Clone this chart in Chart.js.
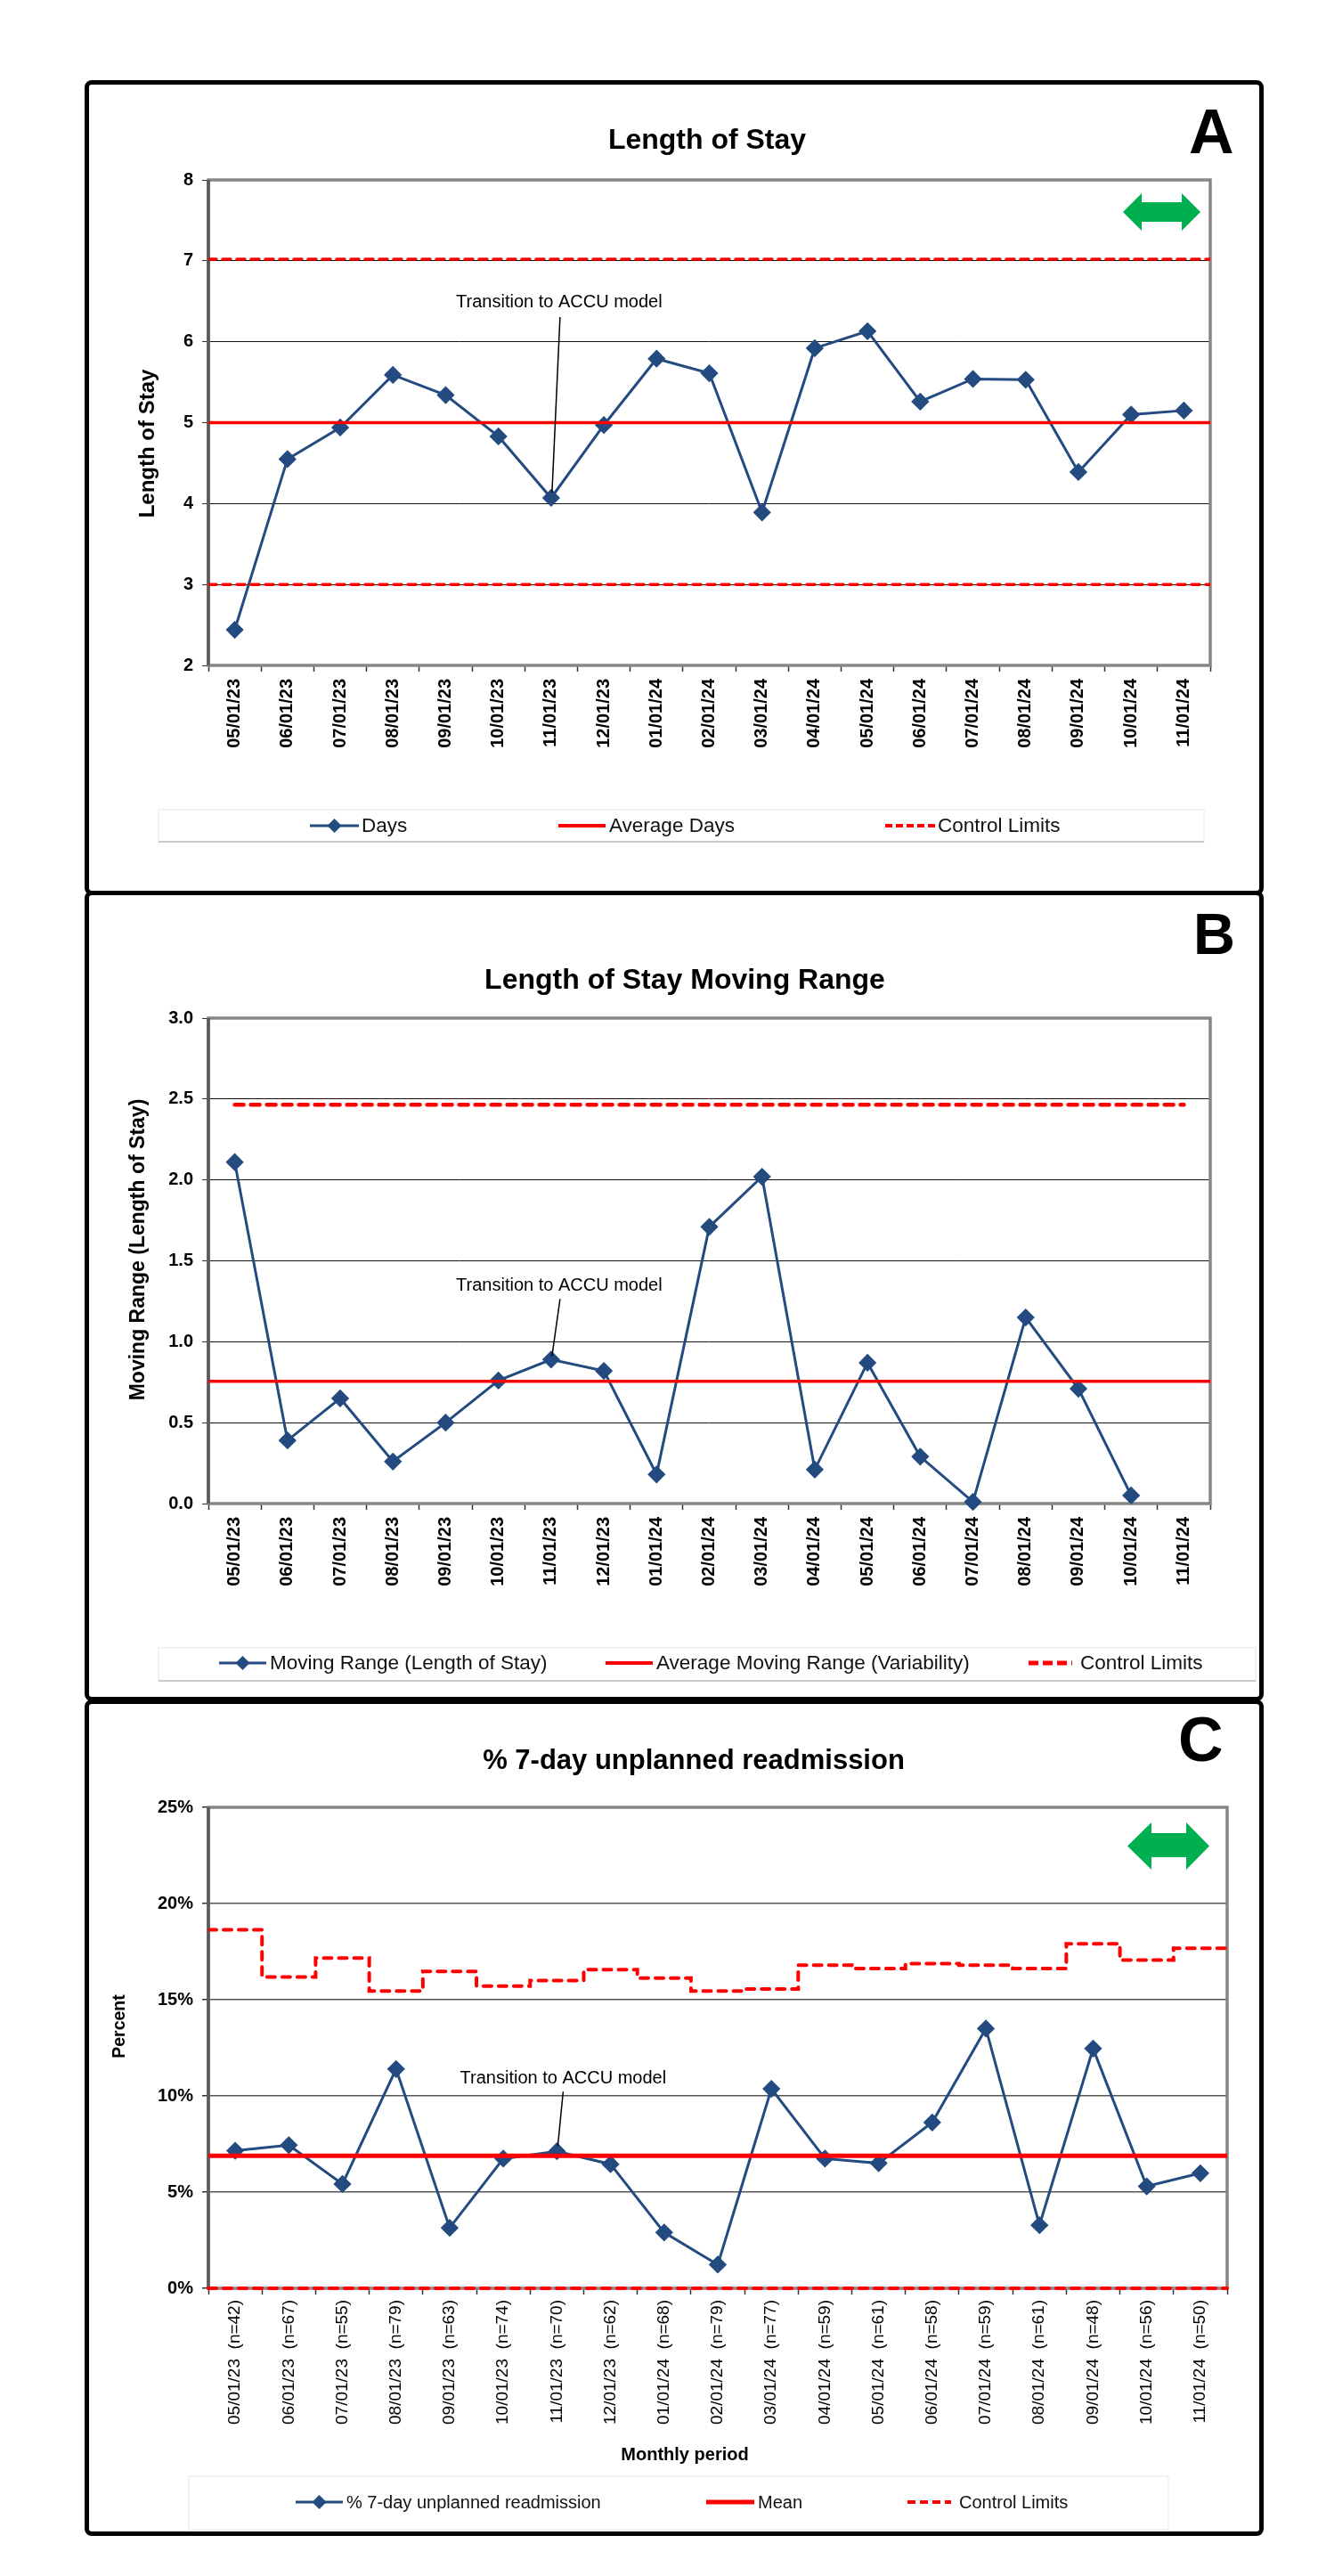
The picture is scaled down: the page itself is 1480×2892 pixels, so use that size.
<!DOCTYPE html>
<html>
<head>
<meta charset="utf-8">
<title>Length of Stay control charts</title>
<script src="https://cdn.jsdelivr.net/npm/chart.js@4/dist/chart.umd.min.js"></script>
<style>
  html, body { margin: 0; padding: 0; background: #fff; overflow: hidden; }
  body { position: relative; width: 1480px; height: 2892px; font-family: "Liberation Sans", Arial, sans-serif; }
  .panel { position: absolute; left: 95px; width: 1314px; border: 5px solid #000; border-radius: 8px; }
  canvas { position: absolute; left: 0; }
  .letter { position: absolute; font-size: 70px; font-weight: bold; line-height: 70px; color: #000; }
  svg { position: absolute; }
</style>
</head>
<body>
<div class="panel" style="top:90px;height:905px"></div>
<div class="panel" style="top:1000px;height:900px"></div>
<div class="panel" style="top:1908px;height:929px"></div>

<canvas id="chartA"></canvas>
<canvas id="chartB"></canvas>
<canvas id="chartC"></canvas>

<div class="letter" style="left:1335px;top:113px">A</div>
<div class="letter" style="left:1340px;top:1014px;font-size:65px">B</div>
<div class="letter" style="left:1323px;top:1918px">C</div>

<svg style="left:1261px;top:217px" width="87" height="42" viewBox="0 0 87 42">
  <polygon fill="#00B050" points="0,21 21,0 21,10 66,10 66,0 87,21 66,42 66,32 21,32 21,42"/>
</svg>
<svg style="left:1266px;top:2046px" width="92" height="53" viewBox="0 0 92 53">
  <polygon fill="#00B050" points="0,26.5 27,0 27,12 66,12 66,0 92,26.5 66,53 66,39 27,39 27,53"/>
</svg>

<script>
const months = ["05/01/23", "06/01/23", "07/01/23", "08/01/23", "09/01/23", "10/01/23", "11/01/23", "12/01/23", "01/01/24", "02/01/24", "03/01/24", "04/01/24", "05/01/24", "06/01/24", "07/01/24", "08/01/24", "09/01/24", "10/01/24", "11/01/24"];
const sampleSizes = [42, 67, 55, 79, 63, 74, 70, 62, 68, 79, 77, 59, 61, 58, 59, 61, 48, 56, 50];

const losDays = [2.44, 4.55, 4.94, 5.59, 5.34, 4.83, 4.07, 4.97, 5.79, 5.61, 3.89, 5.92, 6.13, 5.26, 5.54, 5.53, 4.39, 5.10, 5.15];
const losAverage = 5.0;
const losUpper = 7.02;
const losLower = 3.0;
const losTicks = [2, 3, 4, 5, 6, 7, 8];

const movingRange = [2.11, 0.39, 0.65, 0.26, 0.50, 0.76, 0.89, 0.82, 0.18, 1.71, 2.02, 0.21, 0.87, 0.29, 0.01, 1.15, 0.71, 0.05, null];
const rangeAverage = 0.755;
const rangeUpper = 2.465;
const rangeTicks = [0, 0.5, 1, 1.5, 2, 2.5, 3];

const readmission = [7.15, 7.44, 5.42, 11.4, 3.14, 6.74, 7.12, 6.45, 2.9, 1.23, 10.37, 6.74, 6.5, 8.62, 13.5, 3.28, 12.46, 5.3, 5.98];
const readmissionMean = 6.89;
const readmissionUpper = [18.64, 16.18, 17.17, 15.45, 16.47, 15.71, 16.0, 16.56, 16.12, 15.45, 15.56, 16.79, 16.62, 16.88, 16.79, 16.62, 17.9, 17.06, 17.67];
const readmissionLower = 0;
const percentTicks = [0, 5, 10, 15, 20, 25];

const navy = "#234B80";
const red = "#FF0000";
const fontFamily = '"Liberation Sans", Arial, sans-serif';

// lines that run edge to edge of the plot use the hidden linear axis
function flatLine(value) {
  return [{ x: 0, y: value }, { x: months.length, y: value }];
}

function stepLine(values) {
  const points = values.map((v, i) => ({ x: i, y: v }));
  points.push({ x: values.length, y: values[values.length - 1] });
  return points;
}

function seriesSet(label, data) {
  return { label, data, borderColor: navy, backgroundColor: navy, borderWidth: 3, pointStyle: "rectRot", pointRadius: 8, pointHoverRadius: 8, tension: 0, clip: false, order: 3, spanGaps: false };
}

function meanSet(label, value, width) {
  return { label, data: flatLine(value), xAxisID: "edge", borderColor: red, borderWidth: width, pointRadius: 0, order: 2 };
}

function limitSet(label, data, width, dash, onEdge) {
  const set = { label, data, borderColor: red, borderWidth: width, borderDash: dash, borderCapStyle: "round", pointRadius: 0, order: 1 };
  if (onEdge) set.xAxisID = "edge";
  return set;
}

// title placement, frame, axis titles, callout and the boxed legend
const extrasPlugin = {
  id: "extras",
  afterLayout(chart, args, opts) {
    const block = chart.titleBlock;
    block.left = opts.titleX - 400;
    block.right = opts.titleX + 400;
  },
  beforeDatasetsDraw(chart, args, opts) {
    const { ctx, chartArea: a } = chart;
    ctx.save();
    ctx.strokeStyle = "#868686";
    ctx.lineWidth = 3.5;
    ctx.strokeRect(a.left, a.top, a.right - a.left, a.bottom - a.top);
    ctx.strokeStyle = "#5A5A5A";
    ctx.beginPath();
    ctx.moveTo(a.left, a.top);
    ctx.lineTo(a.left, a.bottom);
    ctx.stroke();
    ctx.restore();
  },
  afterDraw(chart, args, opts) {
    const { ctx } = chart;
    ctx.save();
    ctx.fillStyle = "#000";
    ctx.textAlign = "center";
    ctx.textBaseline = "middle";

    opts.axisTitles.forEach((t) => {
      ctx.save();
      ctx.translate(t.x, t.y);
      ctx.rotate(t.rotate ? -Math.PI / 2 : 0);
      ctx.font = "bold " + t.size + "px " + fontFamily;
      ctx.fillText(t.text, 0, 0);
      ctx.restore();
    });

    const point = chart.getDatasetMeta(0).data[opts.callout.index];
    ctx.font = "20px " + fontFamily;
    ctx.fillText("Transition to ACCU model", point.x + opts.callout.textDx, point.y + opts.callout.textDy);
    ctx.strokeStyle = "#000";
    ctx.lineWidth = 1.5;
    ctx.beginPath();
    ctx.moveTo(point.x + opts.callout.lineDx, point.y + opts.callout.lineDy);
    ctx.lineTo(point.x + 1, point.y + opts.callout.endDy);
    ctx.stroke();

    const box = opts.legend.box;
    ctx.fillStyle = "#fff";
    ctx.strokeStyle = "#EEEEEE";
    ctx.lineWidth = 1.5;
    ctx.strokeRect(box.left, box.top, box.right - box.left, box.bottom - box.top);
    if (opts.legend.bottomRule) {
      ctx.strokeStyle = "#BDBDBD";
      ctx.beginPath();
      ctx.moveTo(box.left, box.bottom);
      ctx.lineTo(box.right, box.bottom);
      ctx.stroke();
    }

    ctx.textAlign = "left";
    ctx.font = opts.legend.size + "px " + fontFamily;
    opts.legend.items.forEach((item) => {
      const ds = chart.data.datasets.find((d) => d.label === item.label);
      const y = opts.legend.y;
      ctx.save();
      ctx.strokeStyle = ds.borderColor;
      ctx.lineWidth = item.width;
      ctx.setLineDash(item.dash || []);
      ctx.beginPath();
      ctx.moveTo(item.from, y);
      ctx.lineTo(item.to, y);
      ctx.stroke();
      ctx.restore();
      if (item.marker) {
        const mid = (item.from + item.to) / 2;
        ctx.fillStyle = ds.borderColor;
        ctx.beginPath();
        ctx.moveTo(mid - 8, y);
        ctx.lineTo(mid, y - 8);
        ctx.lineTo(mid + 8, y);
        ctx.lineTo(mid, y + 8);
        ctx.closePath();
        ctx.fill();
      }
      ctx.fillStyle = "#111";
      ctx.fillText(item.label, item.textX, y + 1);
    });
    ctx.restore();
  },
};

function makeChart(id, cfg) {
  const canvas = document.getElementById(id);
  canvas.style.top = cfg.top + "px";
  canvas.style.width = cfg.width + "px";
  canvas.style.height = cfg.height + "px";
  canvas.width = cfg.width;
  canvas.height = cfg.height;

  const ticks = cfg.yTicks;
  return new Chart(canvas.getContext("2d"), {
    type: "line",
    data: { labels: cfg.labels, datasets: cfg.datasets },
    plugins: [extrasPlugin],
    options: {
      responsive: false,
      animation: false,
      devicePixelRatio: 1,
      layout: { padding: { left: 0, right: cfg.width - cfg.plot.right, top: 0, bottom: 0 } },
      plugins: {
        legend: { display: false },
        tooltip: { enabled: false },
        title: {
          display: true,
          text: cfg.title,
          color: "#000",
          font: { family: fontFamily, size: cfg.titleSize, weight: "bold", lineHeight: 1 },
          padding: { top: cfg.titleCenter - cfg.titleSize / 2, bottom: cfg.plot.top - cfg.titleCenter - cfg.titleSize / 2 },
        },
        extras: cfg.extras,
      },
      scales: {
        x: {
          type: "category",
          offset: true,
          grid: { offset: true, drawOnChartArea: false, tickLength: 7, tickColor: "#333", tickWidth: 1.5 },
          border: { display: false },
          ticks: {
            autoSkip: false,
            minRotation: 90,
            maxRotation: 90,
            padding: cfg.xTickPadding,
            color: "#000",
            font: { family: fontFamily, size: cfg.xTickSize, weight: cfg.xTickWeight },
          },
          afterFit(scale) { scale.height = cfg.height - cfg.plot.bottom; },
        },
        edge: { type: "linear", display: false, min: 0, max: months.length },
        y: {
          min: ticks[0],
          max: ticks[ticks.length - 1],
          grid: { color: cfg.gridColor, lineWidth: cfg.gridWidth, tickLength: 7, tickColor: "#333" },
          border: { display: false },
          ticks: {
            stepSize: ticks[1] - ticks[0],
            padding: 10,
            color: "#000",
            font: { family: fontFamily, size: 20, weight: "bold" },
            callback: cfg.yFormat,
          },
          afterFit(scale) { scale.width = cfg.plot.left; },
        },
      },
    },
  });
}

makeChart("chartA", {
  top: 90, width: 1480, height: 915,
  plot: { left: 234, right: 1359, top: 112, bottom: 657 },
  title: "Length of Stay", titleSize: 32, titleCenter: 68,
  labels: months,
  xTickSize: 20, xTickWeight: "bold", xTickPadding: 8,
  gridColor: "#111", gridWidth: 1,
  yTicks: losTicks,
  yFormat: (v) => v,
  datasets: [
    seriesSet("Days", losDays),
    meanSet("Average Days", losAverage, 3.5),
    limitSet("Control Limits", flatLine(losUpper), 3.5, [9, 7], true),
    limitSet("Control Limits", flatLine(losLower), 3.5, [9, 7], true),
  ],
  extras: {
    titleX: 794,
    axisTitles: [{ text: "Length of Stay", x: 166, y: 408, size: 24, rotate: true }],
    callout: { index: 6, textDx: 9, textDy: -219, lineDx: 10, lineDy: -203, endDy: -6 },
    legend: {
      box: { left: 178, right: 1352, top: 819, bottom: 855 }, bottomRule: true, y: 837, size: 22.5,
      items: [
        { label: "Days", from: 348, to: 403, textX: 406, width: 3, marker: true },
        { label: "Average Days", from: 627, to: 680, textX: 684, width: 4 },
        { label: "Control Limits", from: 994, to: 1050, textX: 1053, width: 4, dash: [8, 4] },
      ],
    },
  },
});

makeChart("chartB", {
  top: 1000, width: 1480, height: 910,
  plot: { left: 234, right: 1359, top: 143, bottom: 688 },
  title: "Length of Stay Moving Range", titleSize: 32, titleCenter: 101,
  labels: months,
  xTickSize: 20, xTickWeight: "bold", xTickPadding: 8,
  gridColor: "#111", gridWidth: 1,
  yTicks: rangeTicks,
  yFormat: (v) => v.toFixed(1),
  datasets: [
    seriesSet("Moving Range (Length of Stay)", movingRange),
    meanSet("Average Moving Range (Variability)", rangeAverage, 3.5),
    limitSet("Control Limits", months.map(() => rangeUpper), 4.5, [10, 8], false),
  ],
  extras: {
    titleX: 769,
    axisTitles: [{ text: "Moving Range (Length of Stay)", x: 156, y: 403, size: 23, rotate: true }],
    callout: { index: 6, textDx: 9, textDy: -83, lineDx: 10, lineDy: -68, endDy: -4 },
    legend: {
      box: { left: 178, right: 1410, top: 850, bottom: 887 }, bottomRule: true, y: 867, size: 22.5,
      items: [
        { label: "Moving Range (Length of Stay)", from: 246, to: 299, textX: 303, width: 3, marker: true },
        { label: "Average Moving Range (Variability)", from: 680, to: 733, textX: 737, width: 4 },
        { label: "Control Limits", from: 1155, to: 1204, textX: 1213, width: 5, dash: [11, 5] },
      ],
    },
  },
});

makeChart("chartC", {
  top: 1908, width: 1480, height: 939,
  plot: { left: 234, right: 1378, top: 121, bottom: 661 },
  title: "% 7-day unplanned readmission", titleSize: 31, titleCenter: 69,
  labels: months.map((m, i) => m + "  (n=" + sampleSizes[i] + ")"),
  xTickSize: 19, xTickWeight: "normal", xTickPadding: 6,
  gridColor: "#555", gridWidth: 1.5,
  yTicks: percentTicks,
  yFormat: (v) => v + "%",
  datasets: [
    seriesSet("% 7-day unplanned readmission", readmission),
    meanSet("Mean", readmissionMean, 5),
    Object.assign(limitSet("Control Limits", stepLine(readmissionUpper), 4, [9, 8], true), { stepped: "before" }),
    Object.assign(limitSet("Control Limits", flatLine(readmissionLower), 4, [9, 8], true), { clip: 6 }),
  ],
  extras: {
    titleX: 779,
    axisTitles: [
      { text: "Percent", x: 135, y: 367, size: 19.5, rotate: true },
      { text: "Monthly period", x: 769, y: 848, size: 20, rotate: false },
    ],
    callout: { index: 6, textDx: 7, textDy: -82, lineDx: 7, lineDy: -67, endDy: -6 },
    legend: {
      box: { left: 212, right: 1312, top: 872, bottom: 932 }, bottomRule: false, y: 901, size: 20,
      items: [
        { label: "% 7-day unplanned readmission", from: 332, to: 385, textX: 389, width: 3, marker: true },
        { label: "Mean", from: 793, to: 847, textX: 851, width: 5 },
        { label: "Control Limits", from: 1019, to: 1068, textX: 1077, width: 4, dash: [9, 5] },
      ],
    },
  },
});
</script>
</body>
</html>
